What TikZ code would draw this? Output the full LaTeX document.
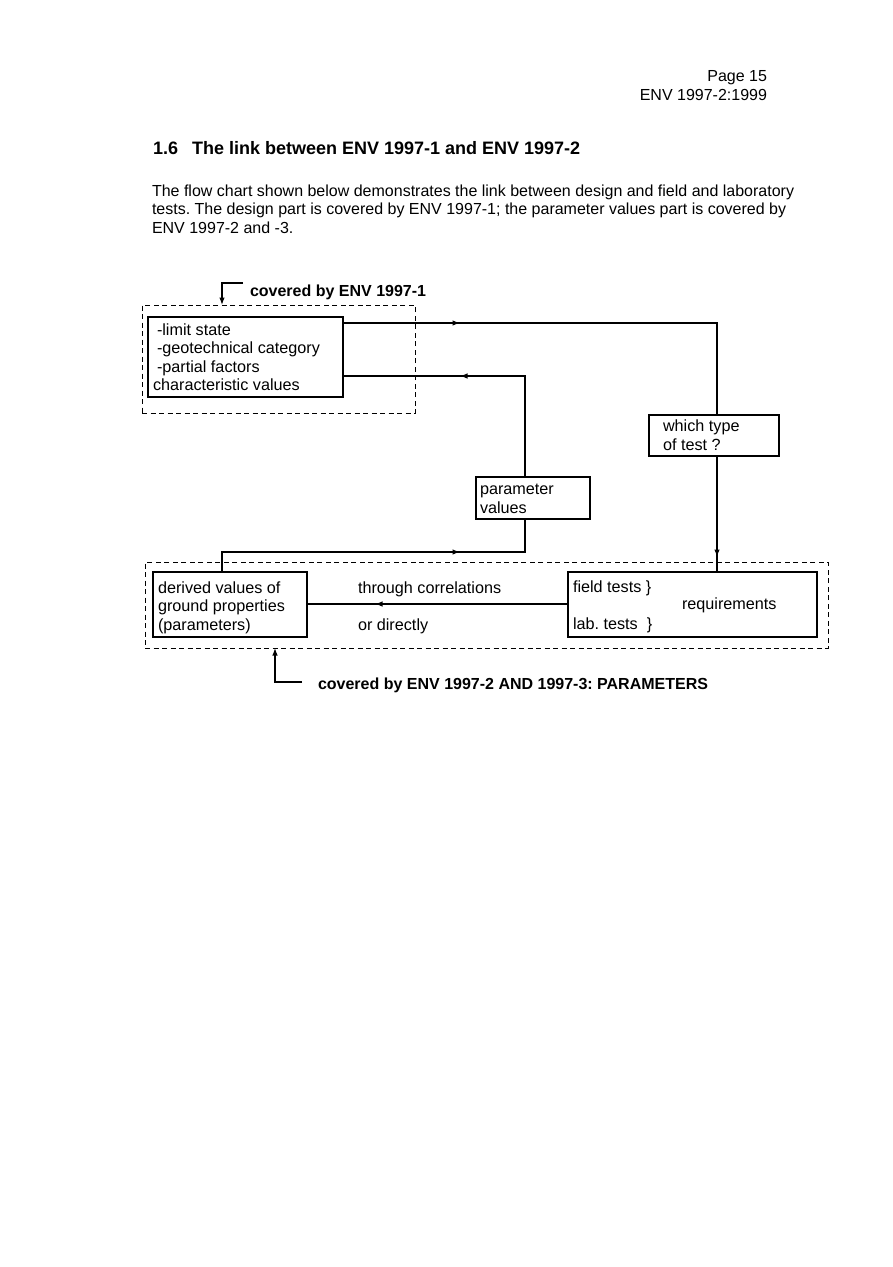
\documentclass[tikz,border=0pt]{standalone}
\usepackage{fontspec}
\setmainfont{Liberation Sans}
\usetikzlibrary{arrows.meta,decorations.markings,calc}
\frenchspacing
\begin{document}
\begin{tikzpicture}[x=1pt,y=-1pt,
  font=\fontsize{16}{18.5}\selectfont\frenchspacing,
  dfont/.style={font=\fontsize{16.2}{18.5}\selectfont\frenchspacing},
  txt/.style={anchor=base west, inner sep=0pt, outer sep=0pt},
  rtxt/.style={anchor=base east, inner sep=0pt, outer sep=0pt},
  box/.style={draw, line width=1.2pt, inner sep=0pt, outer sep=0pt, anchor=north west},
  dbox/.style={draw, line width=0.9pt, dash pattern=on 5pt off 3.5pt, inner sep=0pt, outer sep=0pt, anchor=north west},
  conn/.style={line width=1.2pt},
  tip/.style={-{Latex[length=7.5pt,width=5.5pt]}},
  midarrow/.style={postaction={decorate}, decoration={markings, mark=at position #1 with {\arrow{Latex[length=7.5pt,width=5.5pt]}}}}
]
\useasboundingbox (0,0) rectangle (893,1267);

% header
\node[rtxt] (pg) at (767,81.5) {Page 15};
\node[rtxt] (std) at (767,100.5) {ENV 1997-2:1999};
\node[txt, font=\fontsize{18}{22}\selectfont\bfseries] (hd) at (153,154.5) {1.6\hspace{14pt}The link between ENV 1997-1 and ENV 1997-2};
\node[txt] (l1) at (152,196) {The flow chart shown below demonstrates the link between design and field and laboratory};
\node[txt] (l2) at (152,214.5) {tests. The design part is covered by ENV 1997-1; the parameter values part is covered by};
\node[txt] (l3) at (152,233) {ENV 1997-2 and -3.};

% dashed regions
\node[dbox, minimum width=273pt, minimum height=108pt] (d1) at (142,305) {};
\node[dbox, minimum width=683pt, minimum height=86pt] (d2) at (145,562) {};

% boxes
\node[box, minimum width=195pt, minimum height=80pt] (ls) at (148,317) {};
\node[box, minimum width=130pt, minimum height=41pt] (tw) at (649,415) {};
\node[box, minimum width=114pt, minimum height=42pt] (pv) at (476,477) {};
\node[box, minimum width=154pt, minimum height=65pt] (dv) at (153,572) {};
\node[box, minimum width=249pt, minimum height=65pt] (ft) at (568,572) {};

% texts
\node[txt, font=\fontsize{16}{18.5}\selectfont\bfseries] (cov1) at (250,296) {covered by ENV 1997-1};
\node[txt, dfont] (t1) at (157,335) {-limit state};
\node[txt, dfont] (t2) at (157,353.5) {-geotechnical category};
\node[txt, dfont] (t3) at (157,372) {-partial factors};
\node[txt, dfont] (t4) at (153,390.5) {characteristic values};

\node[txt, dfont] (w1) at (663,431.5) {which type};
\node[txt, dfont] (w2) at (663,450) {of test ?};

\node[txt, dfont] (pv1) at (480,494.5) {parameter};
\node[txt, dfont] (pv2) at (480,513) {values};

\node[txt, dfont] (dv1) at (158,593) {derived values of};
\node[txt, dfont] (dv2) at (158,611.5) {ground properties};
\node[txt, dfont] (dv3) at (158,630) {(parameters)};

\node[txt, dfont] (tc) at (358,593) {through correlations};
\node[txt, dfont] (od) at (358,630) {or directly};

\node[txt, dfont] (ft1) at (573,592) {field tests \}};
\node[txt, dfont] (ft2) at (682,609.5) {requirements};
\node[txt, dfont] (ft3) at (573,629) {lab. tests\ \ \}};

\node[txt, font=\fontsize{16}{18.5}\selectfont\bfseries] (cov2) at (318,689) {covered by ENV 1997-2 AND 1997-3: PARAMETERS};

% connector end points
\coordinate (c1s) at (243,283);
\coordinate (c1e) at ($(d1.north west)+(80,0)$);
\coordinate (p1) at ($(ls.north east)+(0,6)$);
\coordinate (p2) at ($(tw.north west)+(68,0)$);
\coordinate (p3) at ($(pv.north west)+(49,0)$);
\coordinate (p4) at ($(ls.north east)+(0,59)$);
\coordinate (p5) at ($(tw.south west)+(68,0)$);
\coordinate (p6) at ($(ft.north west)+(149,0)$);
\coordinate (p7) at ($(dv.north west)+(69,0)$);
\coordinate (q)  at (525,552);
\coordinate (p8) at ($(pv.south west)+(49,0)$);
\coordinate (p9) at ($(ft.north west)+(0,32)$);
\coordinate (p10) at ($(dv.north east)+(0,32)$);
\coordinate (c2s) at (302,682);
\coordinate (c2e) at ($(d2.south west)+(130,0)$);

% connectors
\draw[conn, tip] (c1s) -| (c1e);
\draw[conn, midarrow=117pt] (p1) -| (p2);
\draw[conn, midarrow=166pt] (p3) |- (p4);
\draw[conn, midarrow=101pt] (p5) -- (p6);
\draw[conn, midarrow=258pt] (p7) |- (q) -- (p8);
\draw[conn, midarrow=193pt] (p9) -- (p10);
\draw[conn, tip] (c2s) -| (c2e);
\end{tikzpicture}
\end{document}
